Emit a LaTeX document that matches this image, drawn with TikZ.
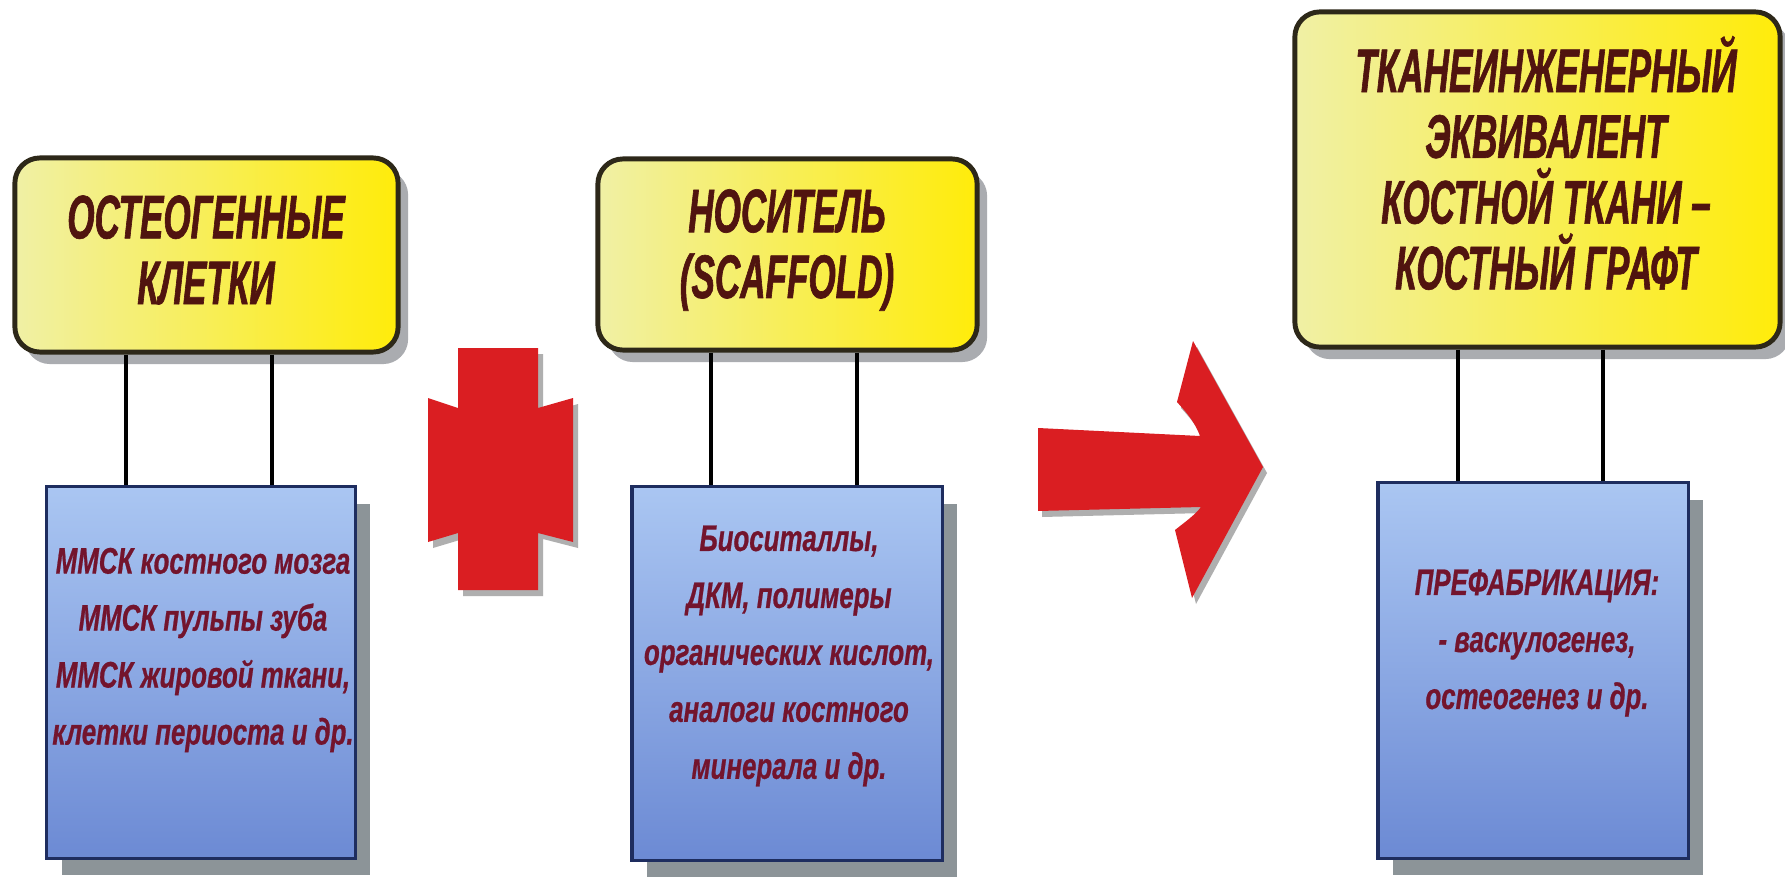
\documentclass[tikz,border=0pt]{standalone}
\usepackage{fontspec}
\setmainfont{Liberation Sans}
\newfontfamily\headfont[FakeStretch=0.57,FakeBold=1]{Liberation Sans}
\newfontfamily\bodyfont[FakeStretch=0.70,FakeBold=0.6]{Liberation Sans}
\usetikzlibrary{shadows}
\definecolor{yelL}{RGB}{240,240,165}
\definecolor{yelR}{RGB}{255,236,10}
\definecolor{yelB}{RGB}{45,40,25}
\definecolor{bluT}{RGB}{170,198,242}
\definecolor{bluB}{RGB}{108,138,212}
\definecolor{bluE}{RGB}{30,45,95}
\definecolor{shdY}{RGB}{170,172,176}
\definecolor{shdB}{RGB}{140,148,152}
\definecolor{hdtxt}{RGB}{80,20,15}
\definecolor{bdtxt}{RGB}{115,20,45}
\definecolor{redfill}{RGB}{218,30,34}
\definecolor{redshd}{RGB}{175,175,175}
\tikzset{
  ybox/.style={draw=yelB, line width=1.4pt, rounded corners=0.25cm,
    left color=yelL, right color=yelR, inner sep=0pt,
    drop shadow={shadow xshift=0.10cm, shadow yshift=-0.12cm, fill=shdY, opacity=1}},
  bbox/.style={draw=bluE, line width=0.9pt, top color=bluT, bottom color=bluB, inner sep=0pt,
    drop shadow={shadow xshift=0.15cm, shadow yshift=-0.17cm, fill=shdB, opacity=1}},
  ytext/.style={text=hdtxt, align=center, inner sep=0pt,
    font=\headfont\bfseries\itshape\fontsize{17.5}{18.7}\selectfont},
  btext/.style={text=bdtxt, align=center, inner sep=0pt,
    font=\bodyfont\bfseries\itshape\fontsize{10.5}{16.2}\selectfont},
  conn/.style={draw=black, line width=0.9pt},
  redshape/.style={fill=redfill},
  redshadow/.style={fill=redshd}
}
\begin{document}
\begin{tikzpicture}[x=0.01cm, y=-0.01cm]
\useasboundingbox (0,0) rectangle (1785,879);
\fill[white] (0,0) rectangle (1785,879);

% yellow header boxes
\node[ybox, minimum width=3.83cm, minimum height=1.94cm] (y1) at (206.5,255) {};
\node[ybox, minimum width=3.79cm, minimum height=1.91cm] (y2) at (787.5,254.5) {};
\node[ybox, minimum width=4.85cm, minimum height=3.35cm] (y3) at (1537.5,179.5) {};

% blue boxes
\node[bbox, minimum width=3.08cm, minimum height=3.71cm] (b1) at (201,672.5) {};
\node[bbox, minimum width=3.10cm, minimum height=3.73cm] (b2) at (787,673.5) {};
\node[bbox, minimum width=3.10cm, minimum height=3.75cm] (b3) at (1533,670.5) {};

% connector columns
\coordinate (c1a) at (126,0);  \coordinate (c1b) at (272,0);
\coordinate (c2a) at (711,0);  \coordinate (c2b) at (857,0);
\coordinate (c3a) at (1458,0); \coordinate (c3b) at (1603,0);
\draw[conn] (y1.south -| c1a) -- (b1.north -| c1a);
\draw[conn] (y1.south -| c1b) -- (b1.north -| c1b);
\draw[conn] (y2.south -| c2a) -- (b2.north -| c2a);
\draw[conn] (y2.south -| c2b) -- (b2.north -| c2b);
\draw[conn] (y3.south -| c3a) -- (b3.north -| c3a);
\draw[conn] (y3.south -| c3b) -- (b3.north -| c3b);

% texts
\node[ytext] (t1) at (206,250) {ОСТЕОГЕННЫЕ\\КЛЕТКИ};
\node[ytext] (t2) at (787,250) {НОСИТЕЛЬ\\(SCAFFOLD)};
\node[ytext] (t3) at (1546,163) {ТКАНЕИНЖЕНЕРНЫЙ\\ЭКВИВАЛЕНТ\\КОСТНОЙ ТКАНИ –\\КОСТНЫЙ ГРАФТ};

\node[btext] (u1) at (203,650) {ММСК костного мозга\\ММСК пульпы зуба\\ММСК жировой ткани,\\клетки периоста и др.};
\node[btext] (u2) at (789,656) {Биоситаллы,\\ДКМ, полимеры\\органических кислот,\\аналоги костного\\минерала и др.};
\node[btext] (u3) at (1537,643) {ПРЕФАБРИКАЦИЯ:\\- васкулогенез,\\остеогенез и др.};

% plus sign
\begin{scope}[shift={(5,6)}]
\fill[redshadow] (458,348) -- (538,348) -- (538,408) -- (573,398) -- (573,542) -- (538,533)
  -- (538,590) -- (458,590) -- (458,533) -- (428,542) -- (428,398) -- (458,408) -- cycle;
\end{scope}
\fill[redshape] (458,348) -- (538,348) -- (538,408) -- (573,398) -- (573,542) -- (538,533)
  -- (538,590) -- (458,590) -- (458,533) -- (428,542) -- (428,398) -- (458,408) -- cycle;

% big arrow
\begin{scope}[shift={(4,6)}]
\fill[redshadow] (1038,428) -- (1200,436) .. controls (1194,420) and (1184,410) .. (1177,402)
  -- (1193,341) -- (1263,467) -- (1192,598) -- (1175,530)
  .. controls (1185,522) and (1195,515) .. (1201,507) -- (1038,511) -- cycle;
\end{scope}
\fill[redshape] (1038,428) -- (1200,436) .. controls (1194,420) and (1184,410) .. (1177,402)
  -- (1193,341) -- (1263,467) -- (1192,598) -- (1175,530)
  .. controls (1185,522) and (1195,515) .. (1201,507) -- (1038,511) -- cycle;
\end{tikzpicture}
\end{document}
